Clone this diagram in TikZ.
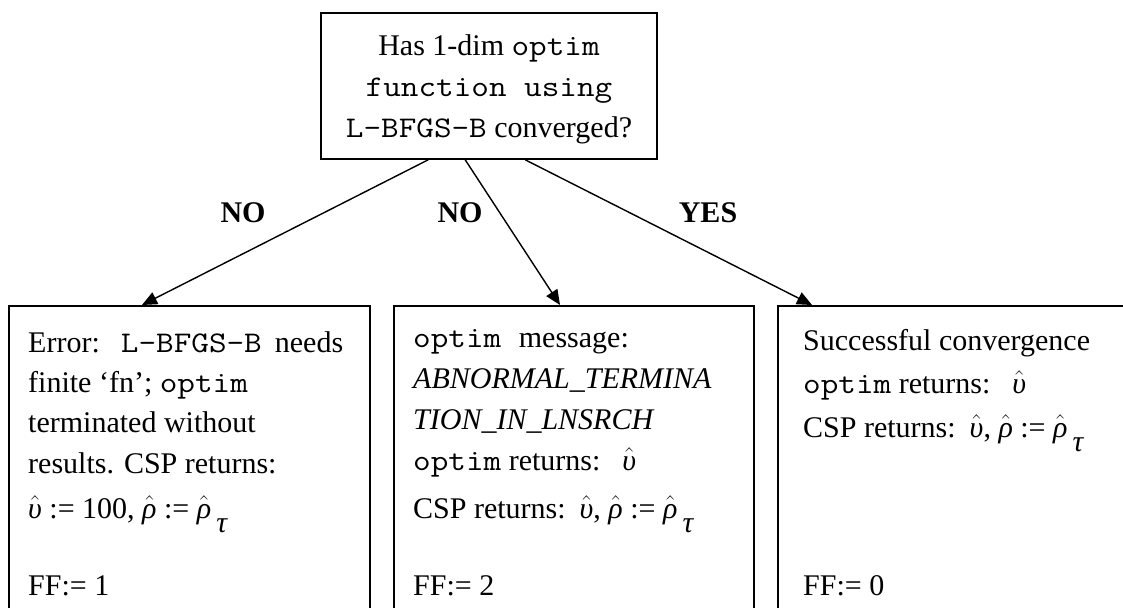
\RequirePackage{fix-cm}
\documentclass[tikz,border=0pt]{standalone}
\usepackage{fontspec}
\setmainfont{Liberation Serif}
\setmonofont{Latin Modern Mono}[FakeStretch=1.14]
\usetikzlibrary{arrows.meta}

% hatted Greek letters and the lowered tau index
\newcommand\hatgk[1]{\ensuremath{\hat{\mbox{\itshape #1}}}}
\newcommand\vhat{\hatgk{υ}}
\newcommand\rhat{\hatgk{ρ}}
\newcommand\tauidx{\hspace{5pt}\raisebox{-14pt}{\itshape τ}}

\begin{document}
\begin{tikzpicture}[x=1pt,y=-1pt,
  every node/.style={inner sep=0pt},
  box/.style={draw, line width=1.6pt, fill=white, anchor=north west,
    minimum height=340pt},
  ln/.style={anchor=base west, font=\fontsize{30}{36}\selectfont},
  answer/.style={anchor=base, font=\fontsize{30}{36}\selectfont\bfseries},
  link/.style={-{Triangle[length=15pt,width=13pt]}, line width=1.4pt},
]
\useasboundingbox (0,0) rectangle (1123,607);

% question
\node[draw, line width=1.6pt, minimum width=336pt, minimum height=146pt,
  align=center, font=\fontsize{30}{41}\selectfont] (q) at (489,86)
  {\rule{0pt}{26.5pt}Has 1-dim \texttt{optim}\\
   \texttt{function using}\\
   \texttt{L-BFGS-B} converged?};

% outcome boxes (open at the bottom edge of the page)
\node[box, minimum width=361pt] (b1) at (8,305) {};
\node[box, minimum width=360pt] (b2) at (393,305) {};
\node[box, minimum width=363pt] (b3) at (777,305) {};

% branches
\draw[link] ([xshift=108pt]q.south west) -- ([xshift=134pt]b1.north west);
\draw[link] ([xshift=145pt]q.south west) -- ([xshift=167pt]b2.north west);
\draw[link] ([xshift=205pt]q.south west) -- ([xshift=35pt]b3.north west);

\node[answer] (no1) at (243,222) {NO};
\node[answer] (no2) at (460,222) {NO};
\node[answer] (yes) at (708,222) {YES};

% box 1: error
\node[ln] (e1) at (28,352) {\makebox[315pt][s]{Error: \texttt{L-BFGS-B} needs}};
\node[ln] (e2) at (28,392) {finite ‘fn’; \texttt{optim}};
\node[ln] (e3) at (28,432) {terminated without};
\node[ln] (e4) at (28,473) {results. CSP returns:};
\node[ln] (e5) at (28,518) {\vhat\ := 100, \rhat\ := \rhat\tauidx};
\node[ln] (e6) at (28,595) {FF:= 1};

% box 2: abnormal termination
\node[ln] (a1) at (413,347) {\texttt{optim }message:};
\node[ln] (a2) at (413,388) {\itshape ABNORMAL\_TERMINA};
\node[ln] (a3) at (413,429) {\itshape TION\_IN\_LNSRCH};
\node[ln] (a4) at (413,470) {\texttt{optim} returns:\hspace{22pt}\vhat};
\node[ln] (a5) at (413,518) {CSP returns:\hspace{14pt}\vhat, \rhat\ := \rhat\tauidx};
\node[ln] (a6) at (413,595) {FF:= 2};

% box 3: success
\node[ln] (s1) at (803,350) {Successful convergence};
\node[ln] (s2) at (803,393) {\texttt{optim} returns:\hspace{22pt}\vhat};
\node[ln] (s3) at (803,437) {CSP returns:\hspace{14pt}\vhat, \rhat\ := \rhat\tauidx};
\node[ln] (s4) at (803,595) {FF:= 0};
\end{tikzpicture}
\end{document}
